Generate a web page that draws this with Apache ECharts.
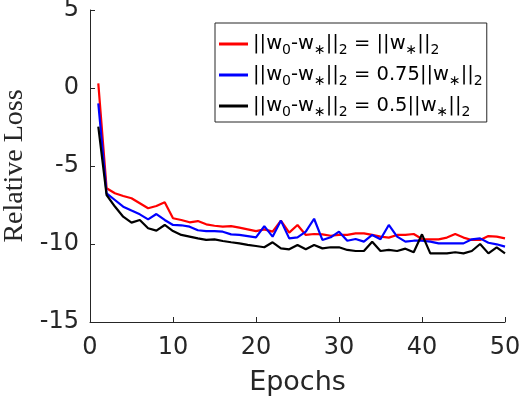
<!DOCTYPE html>
<html>
<head>
<meta charset="utf-8">
<script src="https://cdn.jsdelivr.net/npm/echarts@6/dist/echarts.min.js"></script>
<style>
  html, body { margin: 0; padding: 0; background: #fff; }
  #chart { width: 520px; height: 398px; }
</style>
</head>
<body>
<div id="chart"></div>
<script>
// epochs on the x axis
const epochs = [1, 2, 3, 4, 5, 6, 7, 8, 9, 10, 11, 12, 13, 14, 15, 16, 17, 18, 19, 20,
  21, 22, 23, 24, 25, 26, 27, 28, 29, 30, 31, 32, 33, 34, 35, 36, 37, 38, 39, 40,
  41, 42, 43, 44, 45, 46, 47, 48, 49, 50]

// ||w0-w*||2 = ||w*||2
const lossFull = [0.3, -6.43, -6.75, -6.92, -7.07, -7.39, -7.71, -7.56, -7.33, -8.35,
  -8.46, -8.61, -8.53, -8.74, -8.83, -8.89, -8.85, -8.95, -9.06, -9.17,
  -9.06, -9.21, -8.50, -9.27, -8.78, -9.42, -9.36, -9.38, -9.47, -9.42,
  -9.42, -9.32, -9.32, -9.42, -9.53, -9.59, -9.42, -9.42, -9.36, -9.68,
  -9.70, -9.70, -9.59, -9.36, -9.59, -9.74, -9.74, -9.49, -9.53, -9.64]

// ||w0-w*||2 = 0.75||w*||2
const loss075 = [-0.98, -6.75, -7.18, -7.61, -7.86, -8.10, -8.42, -8.08, -8.46, -8.78,
  -8.80, -8.89, -9.12, -9.17, -9.17, -9.21, -9.38, -9.42, -9.49, -9.57,
  -8.85, -9.53, -8.50, -9.64, -9.57, -9.21, -8.38, -9.74, -9.57, -9.21,
  -9.79, -9.68, -9.85, -9.42, -9.70, -8.78, -9.53, -9.85, -9.79, -9.79,
  -9.85, -9.96, -9.96, -9.96, -9.96, -9.70, -9.64, -9.92, -10.02, -10.17]

// ||w0-w*||2 = 0.5||w*||2
const loss05 = [-2.48, -6.86, -7.6, -8.25, -8.63, -8.46, -8.99, -9.14, -8.78, -9.17,
  -9.42, -9.53, -9.64, -9.74, -9.70, -9.81, -9.89, -9.96, -10.06, -10.13,
  -10.21, -9.89, -10.28, -10.34, -10.06, -10.34, -10.06, -10.28, -10.21, -10.21,
  -10.38, -10.45, -10.45, -9.85, -10.45, -10.38, -10.45, -10.30, -10.53, -9.38,
  -10.60, -10.60, -10.60, -10.53, -10.60, -10.45, -10.00, -10.60, -10.21, -10.60]

const xTicks = [0, 10, 20, 30, 40, 50]
const yTicks = [-15, -10, -5, 0, 5]

// legend text, written with rich-text pieces (m = normal, s = subscript)
const legendLabels = {
  full: '{m|||w}{s|0}{m|-w}{s|∗}{m|||}{s|2}{m| = ||w}{s|∗}{m|||}{s|2}',
  r075: '{m|||w}{s|0}{m|-w}{s|∗}{m|||}{s|2}{m| = 0.75||w}{s|∗}{m|||}{s|2}',
  r05: '{m|||w}{s|0}{m|-w}{s|∗}{m|||}{s|2}{m| = 0.5||w}{s|∗}{m|||}{s|2}'
}

const axisColor = '#262626'
const chart = echarts.init(document.getElementById('chart'))

function pairs(ys) {
  return epochs.map((e, i) => [e, ys[i]])
}

chart.setOption({
  animation: false,
  grid: { left: 90, right: 15, top: 10, bottom: 76, containLabel: false, outerBoundsMode: 'none' },
  legend: {
    orient: 'vertical',
    left: 215,
    top: 23,
    padding: [11, 4, 3, 4],
    itemGap: 8,
    itemWidth: 29,
    itemHeight: 3,
    icon: 'rect',
    backgroundColor: '#fff',
    borderColor: axisColor,
    borderWidth: 1,
    borderRadius: 0,
    formatter: name => legendLabels[name],
    textStyle: {
      rich: {
        m: { fontFamily: 'DejaVu Sans', fontSize: 19.5, color: '#000', lineHeight: 26, verticalAlign: 'middle' },
        s: { fontFamily: 'DejaVu Sans', fontSize: 14, color: '#000', lineHeight: 10, verticalAlign: 'bottom' }
      }
    },
    data: ['full', 'r075', 'r05']
  },
  xAxis: {
    type: 'value',
    min: xTicks[0],
    max: xTicks[xTicks.length - 1],
    interval: 10,
    name: 'Epochs',
    nameLocation: 'middle',
    nameGap: 47,
    nameTextStyle: { fontFamily: 'DejaVu Sans', fontSize: 27, color: axisColor },
    axisLine: { show: true, onZero: false, lineStyle: { color: axisColor, width: 1 } },
    axisTick: { show: true, inside: true, length: 5, lineStyle: { color: axisColor } },
    axisLabel: { margin: 14, fontFamily: 'DejaVu Sans', fontSize: 24, color: axisColor },
    splitLine: { show: false }
  },
  yAxis: {
    type: 'value',
    min: yTicks[0],
    max: yTicks[yTicks.length - 1],
    interval: 5,
    name: 'Relative Loss',
    nameLocation: 'middle',
    nameGap: 59,
    nameTextStyle: { fontFamily: 'Liberation Serif', fontSize: 28, color: axisColor },
    axisLine: { show: true, onZero: false, lineStyle: { color: axisColor, width: 1 } },
    axisTick: { show: true, inside: true, length: 5, lineStyle: { color: axisColor } },
    axisLabel: { margin: 11, fontFamily: 'DejaVu Sans', fontSize: 24, color: axisColor },
    splitLine: { show: false }
  },
  series: [
    { name: 'full', type: 'line', symbol: 'none', data: pairs(lossFull),
      lineStyle: { color: '#ff0000', width: 2.2 }, itemStyle: { color: '#ff0000' } },
    { name: 'r075', type: 'line', symbol: 'none', data: pairs(loss075),
      lineStyle: { color: '#0000ff', width: 2.2 }, itemStyle: { color: '#0000ff' } },
    { name: 'r05', type: 'line', symbol: 'none', data: pairs(loss05),
      lineStyle: { color: '#000000', width: 2.2 }, itemStyle: { color: '#000000' } }
  ]
})
</script>
</body>
</html>
